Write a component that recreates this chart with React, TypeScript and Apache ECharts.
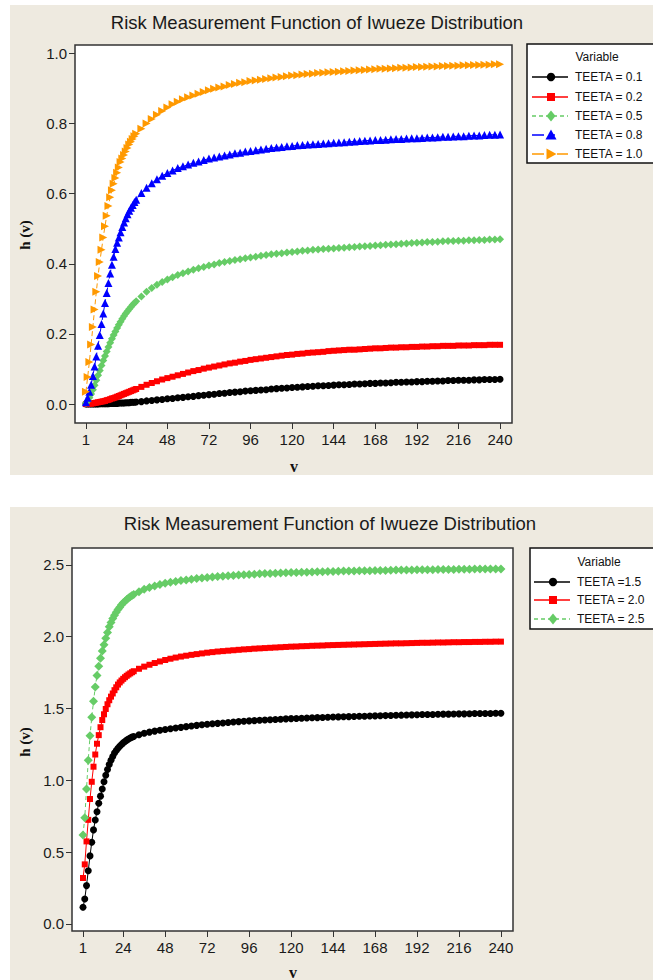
import React, { useEffect, useRef } from "react";
import * as echarts from "echarts";

const TITLE = "Risk Measurement Function of Iwueze Distribution";
const X_TICKS = [1, 24, 48, 72, 96, 120, 144, 168, 192, 216, 240];
const Y1_TICKS = [0, 0.2, 0.4, 0.6, 0.8, 1.0];
const Y2_TICKS = [0, 0.5, 1.0, 1.5, 2.0, 2.5];

const V = [
  1, 2, 3, 4, 5, 6, 7, 8, 9, 10, 11, 12, 13, 14, 15, 16, 17, 18, 19, 20, 21, 22, 23, 24, 25, 26, 27, 28, 29, 30,
  33, 36, 39, 42, 45, 48, 51, 54, 57, 60, 63, 66, 69, 72, 75, 78, 81, 84, 87, 90,
  93, 96, 99, 102, 105, 108, 111, 114, 117, 120, 123, 126, 129, 132, 135, 138, 141, 144, 147, 150,
  153, 156, 159, 162, 165, 168, 171, 174, 177, 180, 183, 186, 189, 192, 195, 198, 201, 204, 207, 210,
  213, 216, 219, 222, 225, 228, 231, 234, 237, 240,
];

// Panel 1
const NAMES_1 = ["TEETA = 0.1", "TEETA = 0.2", "TEETA = 0.5", "TEETA = 0.8", "TEETA = 1.0"];
const T01 = [
  0, 0, 0, 0, 0, 0, 0, 0, 0.001, 0.001, 0.001, 0.001, 0.001, 0.001, 0.002, 0.002, 0.002, 0.002, 0.002, 0.003,
  0.003, 0.003, 0.003, 0.004, 0.004, 0.004, 0.005, 0.005, 0.005, 0.006,
  0.007, 0.009, 0.01, 0.012, 0.013, 0.015, 0.016, 0.018, 0.019, 0.021,
  0.022, 0.024, 0.025, 0.027, 0.028, 0.03, 0.031, 0.033, 0.034, 0.035,
  0.037, 0.038, 0.039, 0.04, 0.041, 0.043, 0.044, 0.045, 0.046, 0.047,
  0.048, 0.049, 0.05, 0.051, 0.052, 0.052, 0.053, 0.054, 0.055, 0.055,
  0.056, 0.057, 0.057, 0.058, 0.059, 0.059, 0.06, 0.06, 0.061, 0.062,
  0.062, 0.063, 0.063, 0.064, 0.064, 0.065, 0.065, 0.066, 0.066, 0.067,
  0.067, 0.068, 0.068, 0.068, 0.069, 0.069, 0.07, 0.07, 0.07, 0.071,
];
const T02 = [
  0, 0, 0.001, 0.001, 0.002, 0.003, 0.004, 0.005, 0.006, 0.007, 0.008, 0.009, 0.011, 0.012, 0.014, 0.016, 0.017, 0.019, 0.021, 0.023,
  0.025, 0.027, 0.029, 0.031, 0.033, 0.035, 0.037, 0.039, 0.041, 0.043,
  0.049, 0.055, 0.06, 0.065, 0.07, 0.074, 0.078, 0.082, 0.086, 0.09,
  0.094, 0.097, 0.101, 0.104, 0.107, 0.11, 0.113, 0.116, 0.118, 0.121,
  0.123, 0.126, 0.128, 0.13, 0.132, 0.134, 0.136, 0.138, 0.14, 0.141,
  0.143, 0.144, 0.146, 0.147, 0.148, 0.149, 0.151, 0.152, 0.153, 0.154,
  0.155, 0.155, 0.156, 0.157, 0.158, 0.159, 0.159, 0.16, 0.161, 0.161,
  0.162, 0.162, 0.163, 0.163, 0.164, 0.164, 0.165, 0.165, 0.166, 0.166,
  0.166, 0.167, 0.167, 0.167, 0.168, 0.168, 0.168, 0.169, 0.169, 0.169,
];
const T05 = [
  0.003, 0.009, 0.018, 0.029, 0.041, 0.054, 0.068, 0.082, 0.096, 0.11, 0.124, 0.137, 0.15, 0.163, 0.175, 0.186, 0.197, 0.207, 0.217, 0.226,
  0.235, 0.243, 0.251, 0.258, 0.265, 0.271, 0.277, 0.283, 0.288, 0.293,
  0.307, 0.32, 0.331, 0.34, 0.348, 0.355, 0.362, 0.368, 0.373, 0.378,
  0.383, 0.387, 0.391, 0.395, 0.398, 0.402, 0.405, 0.408, 0.411, 0.413,
  0.416, 0.418, 0.42, 0.423, 0.425, 0.427, 0.429, 0.43, 0.432, 0.434,
  0.435, 0.437, 0.438, 0.44, 0.441, 0.442, 0.443, 0.444, 0.445, 0.446,
  0.447, 0.448, 0.449, 0.45, 0.451, 0.452, 0.453, 0.454, 0.455, 0.456,
  0.457, 0.458, 0.459, 0.46, 0.461, 0.462, 0.462, 0.463, 0.464, 0.465,
  0.465, 0.466, 0.466, 0.467, 0.467, 0.468, 0.468, 0.469, 0.469, 0.47,
];
const T08 = [
  0.005, 0.018, 0.035, 0.055, 0.08, 0.107, 0.136, 0.166, 0.197, 0.228, 0.258, 0.288, 0.317, 0.345, 0.372, 0.397, 0.42, 0.442, 0.46, 0.475,
  0.49, 0.505, 0.518, 0.53, 0.541, 0.551, 0.56, 0.568, 0.576, 0.583,
  0.602, 0.617, 0.63, 0.641, 0.651, 0.659, 0.666, 0.673, 0.678, 0.683,
  0.688, 0.692, 0.696, 0.7, 0.703, 0.706, 0.709, 0.712, 0.715, 0.717,
  0.72, 0.722, 0.724, 0.726, 0.728, 0.73, 0.732, 0.733, 0.735, 0.736,
  0.738, 0.739, 0.74, 0.741, 0.742, 0.743, 0.744, 0.745, 0.746, 0.747,
  0.748, 0.749, 0.75, 0.751, 0.752, 0.753, 0.753, 0.754, 0.755, 0.756,
  0.756, 0.757, 0.758, 0.758, 0.759, 0.76, 0.76, 0.761, 0.762, 0.762,
  0.763, 0.764, 0.764, 0.765, 0.766, 0.766, 0.767, 0.768, 0.768, 0.769,
];
const T10 = [
  0.035, 0.077, 0.12, 0.17, 0.22, 0.27, 0.32, 0.365, 0.405, 0.44, 0.475, 0.507, 0.537, 0.565, 0.59, 0.61, 0.628, 0.645, 0.66, 0.675,
  0.69, 0.7, 0.71, 0.72, 0.73, 0.74, 0.748, 0.756, 0.764, 0.771,
  0.785, 0.8, 0.813, 0.825, 0.836, 0.846, 0.855, 0.862, 0.869, 0.875,
  0.88, 0.885, 0.89, 0.895, 0.899, 0.903, 0.906, 0.91, 0.913, 0.916,
  0.918, 0.921, 0.923, 0.925, 0.927, 0.929, 0.931, 0.933, 0.935, 0.937,
  0.938, 0.94, 0.941, 0.942, 0.944, 0.945, 0.946, 0.947, 0.948, 0.949,
  0.95, 0.951, 0.952, 0.953, 0.954, 0.955, 0.956, 0.956, 0.957, 0.958,
  0.959, 0.959, 0.96, 0.961, 0.961, 0.962, 0.963, 0.963, 0.964, 0.964,
  0.965, 0.965, 0.966, 0.966, 0.967, 0.967, 0.968, 0.968, 0.969, 0.969,
];

// Panel 2
const NAMES_2 = ["TEETA =1.5", "TEETA = 2.0", "TEETA = 2.5"];
const T15 = [
  0.116, 0.174, 0.267, 0.371, 0.474, 0.569, 0.655, 0.724, 0.782, 0.84, 0.89, 0.94, 0.99, 1.035, 1.075, 1.11, 1.14, 1.166, 1.19, 1.208,
  1.224, 1.238, 1.25, 1.261, 1.271, 1.28, 1.288, 1.295, 1.301, 1.306,
  1.318, 1.328, 1.336, 1.343, 1.349, 1.354, 1.359, 1.364, 1.369, 1.374,
  1.378, 1.383, 1.387, 1.391, 1.394, 1.397, 1.4, 1.403, 1.406, 1.409,
  1.411, 1.414, 1.416, 1.418, 1.42, 1.422, 1.424, 1.426, 1.428, 1.43,
  1.431, 1.433, 1.434, 1.436, 1.437, 1.438, 1.44, 1.441, 1.442, 1.443,
  1.444, 1.445, 1.446, 1.447, 1.448, 1.449, 1.45, 1.451, 1.452, 1.453,
  1.454, 1.455, 1.456, 1.457, 1.458, 1.458, 1.459, 1.46, 1.461, 1.461,
  1.462, 1.463, 1.463, 1.464, 1.465, 1.465, 1.466, 1.466, 1.467, 1.467,
];
const T20 = [
  0.32, 0.415, 0.575, 0.725, 0.87, 0.99, 1.095, 1.18, 1.255, 1.315, 1.37, 1.42, 1.46, 1.497, 1.53, 1.558, 1.583, 1.605, 1.628, 1.648,
  1.667, 1.682, 1.695, 1.707, 1.718, 1.728, 1.737, 1.745, 1.753, 1.76,
  1.777, 1.792, 1.805, 1.817, 1.828, 1.838, 1.847, 1.855, 1.862, 1.868,
  1.874, 1.879, 1.884, 1.889, 1.893, 1.897, 1.9, 1.903, 1.906, 1.909,
  1.912, 1.914, 1.917, 1.919, 1.921, 1.923, 1.925, 1.927, 1.929, 1.931,
  1.932, 1.934, 1.935, 1.937, 1.938, 1.939, 1.941, 1.942, 1.943, 1.944,
  1.945, 1.946, 1.947, 1.948, 1.949, 1.95, 1.951, 1.952, 1.953, 1.954,
  1.954, 1.955, 1.956, 1.957, 1.958, 1.958, 1.959, 1.96, 1.96, 1.961,
  1.962, 1.962, 1.963, 1.963, 1.964, 1.964, 1.965, 1.965, 1.966, 1.966,
];
const T25 = [
  0.62, 0.74, 0.94, 1.14, 1.31, 1.44, 1.55, 1.65, 1.73, 1.795, 1.85, 1.9, 1.945, 1.99, 2.03, 2.07, 2.1, 2.127, 2.15, 2.17,
  2.189, 2.206, 2.222, 2.236, 2.248, 2.259, 2.269, 2.278, 2.287, 2.295,
  2.314, 2.33, 2.343, 2.354, 2.364, 2.372, 2.379, 2.385, 2.391, 2.396,
  2.401, 2.405, 2.409, 2.413, 2.416, 2.419, 2.422, 2.425, 2.427, 2.43,
  2.432, 2.434, 2.436, 2.438, 2.44, 2.441, 2.443, 2.444, 2.446, 2.447,
  2.448, 2.449, 2.45, 2.451, 2.452, 2.453, 2.454, 2.455, 2.456, 2.457,
  2.457, 2.458, 2.459, 2.46, 2.46, 2.461, 2.462, 2.462, 2.463, 2.464,
  2.464, 2.465, 2.465, 2.466, 2.466, 2.467, 2.467, 2.468, 2.468, 2.469,
  2.469, 2.47, 2.47, 2.47, 2.471, 2.471, 2.471, 2.472, 2.472, 2.472,
];

const BLACK = "#000000";
const RED = "#ff0000";
const GREEN = "#66cc66";
const BLUE = "#0000ff";
const ORANGE = "#ff9900";
const BEIGE = "#eeeae0";
const FRAME = "#333333";
const SANS = "Liberation Sans";
const SERIF = "Liberation Serif";

type Style = { color: string; symbol: string; size: number; dash: any; legendDash: number[] | null; rotate?: number };
const STYLE_BLACK: Style = { color: BLACK, symbol: "circle", size: 7, dash: "solid", legendDash: null };
const STYLE_RED: Style = { color: RED, symbol: "rect", size: 6, dash: "solid", legendDash: null };
const STYLE_GREEN: Style = { color: GREEN, symbol: "diamond", size: 8, dash: [4, 3], legendDash: [4, 3] };
const STYLE_BLUE: Style = { color: BLUE, symbol: "triangle", size: 8, dash: [9, 3, 3, 3], legendDash: [12, 6, 5, 20] };
const STYLE_ORANGE: Style = { color: ORANGE, symbol: "triangle", size: 8, dash: [5, 3], legendDash: [12, 6, 4, 3], rotate: -90 };

function pairs(vals: number[]) {
  return V.map((v, i) => [v, vals[i]]);
}

function makeSeries(name: string, vals: number[], idx: number, st: Style, size?: number) {
  return {
    type: "line",
    name,
    xAxisIndex: idx,
    yAxisIndex: idx,
    data: pairs(vals),
    symbol: st.symbol,
    symbolSize: size ?? st.size,
    symbolRotate: st.rotate ?? 0,
    showAllSymbol: true,
    itemStyle: { color: st.color, borderWidth: 0 },
    lineStyle: { color: st.color, width: 1, type: st.dash },
    emphasis: { disabled: true },
  };
}

function marker(st: Style, cx: number, cy: number) {
  const fill = { fill: st.color };
  if (st.symbol === "circle") return { type: "circle", z: 6, shape: { cx, cy, r: 4.2 }, style: fill };
  if (st.symbol === "rect") return { type: "rect", z: 6, shape: { x: cx - 4, y: cy - 4, width: 8, height: 8 }, style: fill };
  if (st.symbol === "diamond")
    return { type: "polygon", z: 6, shape: { points: [[cx, cy - 5.5], [cx + 4.5, cy], [cx, cy + 5.5], [cx - 4.5, cy]] }, style: fill };
  if (st.rotate)
    return { type: "polygon", z: 6, shape: { points: [[cx - 4.5, cy - 5.5], [cx + 5.5, cy], [cx - 4.5, cy + 5.5]] }, style: fill };
  return { type: "polygon", z: 6, shape: { points: [[cx, cy - 5.5], [cx + 5.5, cy + 4.5], [cx - 5.5, cy + 4.5]] }, style: fill };
}

function legendItems(names: string[], styles: Style[], x0: number, ys: number[]) {
  const out: any[] = [];
  names.forEach((name, i) => {
    const st = styles[i];
    const y = ys[i];
    out.push({
      type: "line",
      z: 5,
      shape: { x1: x0, y1: y, x2: x0 + 36, y2: y },
      style: { stroke: st.color, lineWidth: 1.5, lineDash: st.legendDash ?? undefined },
    });
    out.push(marker(st, x0 + 19, y));
    out.push({
      type: "text",
      z: 6,
      x: x0 + 43,
      y,
      style: { text: name, fontSize: 12, fontFamily: SANS, fill: "#111", textAlign: "left", textVerticalAlign: "middle" },
    });
  });
  return out;
}

function xAxisOpt(gridIndex: number) {
  return {
    type: "value",
    gridIndex,
    min: -5.3,
    max: 246.9,
    axisLine: { show: false, onZero: false },
    splitLine: { show: false },
    axisTick: { show: true, length: 6, customValues: X_TICKS, lineStyle: { color: FRAME, width: 1 } },
    axisLabel: { customValues: X_TICKS, fontSize: 15, fontFamily: SANS, color: "#1a1a1a", margin: 9 },
  };
}

function yAxisOpt(gridIndex: number, min: number, max: number, ticks: number[]) {
  return {
    type: "value",
    gridIndex,
    min,
    max,
    axisLine: { show: false, onZero: false },
    splitLine: { show: false },
    axisTick: { show: true, length: 6, customValues: ticks, lineStyle: { color: FRAME, width: 1 } },
    axisLabel: {
      customValues: ticks,
      fontSize: 15,
      fontFamily: SANS,
      color: "#1a1a1a",
      margin: 8,
      formatter: (v: number) => v.toFixed(1),
    },
  };
}

export default function App() {
  const ref = useRef<HTMLDivElement>(null);
  useEffect(() => {
    if (!ref.current) return;
    const chart = echarts.init(ref.current, null, { renderer: "svg" });
    const styles1 = [STYLE_BLACK, STYLE_RED, STYLE_GREEN, STYLE_BLUE, STYLE_ORANGE];
    const styles2 = [STYLE_BLACK, STYLE_RED, STYLE_GREEN];
    chart.setOption({
      animation: false,
      backgroundColor: "#ffffff",
      grid: [
        { left: 75, top: 45, width: 437, height: 378, show: true, backgroundColor: "#ffffff", borderColor: FRAME, borderWidth: 1.5 },
        { left: 72, top: 548, width: 441, height: 383, show: true, backgroundColor: "#ffffff", borderColor: FRAME, borderWidth: 1.5 },
      ],
      xAxis: [xAxisOpt(0), xAxisOpt(1)],
      yAxis: [yAxisOpt(0, -0.054, 1.024, Y1_TICKS), yAxisOpt(1, -0.049, 2.618, Y2_TICKS)],
      graphic: [
        { type: "rect", z: -100, shape: { x: 10, y: 5, width: 643, height: 470 }, style: { fill: BEIGE } },
        { type: "rect", z: -100, shape: { x: 10, y: 507, width: 643, height: 473 }, style: { fill: BEIGE } },
        { type: "rect", z: 1, shape: { x: 527, y: 44, width: 140, height: 119 }, style: { fill: "#ffffff", stroke: "#111", lineWidth: 1.5 } },
        { type: "rect", z: 1, shape: { x: 530, y: 548, width: 140, height: 81 }, style: { fill: "#ffffff", stroke: "#111", lineWidth: 1.5 } },
        { type: "text", z: 5, x: 317, y: 22, style: { text: TITLE, fontSize: 18.5, fontFamily: SANS, fill: "#1a1a1a", textAlign: "center", textVerticalAlign: "middle" } },
        { type: "text", z: 5, x: 330, y: 523, style: { text: TITLE, fontSize: 18.5, fontFamily: SANS, fill: "#1a1a1a", textAlign: "center", textVerticalAlign: "middle" } },
        { type: "text", z: 5, x: 597, y: 57, style: { text: "Variable", fontSize: 12, fontFamily: SANS, fill: "#111", textAlign: "center", textVerticalAlign: "middle" } },
        { type: "text", z: 5, x: 599, y: 562, style: { text: "Variable", fontSize: 12, fontFamily: SANS, fill: "#111", textAlign: "center", textVerticalAlign: "middle" } },
        { type: "text", z: 5, x: 25, y: 235, rotation: Math.PI / 2, style: { text: "h (v)", fontSize: 15, fontWeight: "bold", fontFamily: SERIF, fill: "#111", textAlign: "center", textVerticalAlign: "middle" } },
        { type: "text", z: 5, x: 25, y: 742, rotation: Math.PI / 2, style: { text: "h (v)", fontSize: 15, fontWeight: "bold", fontFamily: SERIF, fill: "#111", textAlign: "center", textVerticalAlign: "middle" } },
        { type: "text", z: 5, x: 294, y: 466, style: { text: "v", fontSize: 16, fontWeight: "bold", fontFamily: SERIF, fill: "#111", textAlign: "center", textVerticalAlign: "middle" } },
        { type: "text", z: 5, x: 293, y: 972, style: { text: "v", fontSize: 16, fontWeight: "bold", fontFamily: SERIF, fill: "#111", textAlign: "center", textVerticalAlign: "middle" } },
        ...legendItems(NAMES_1, styles1, 532, [77, 97, 116, 135, 154]),
        ...legendItems(NAMES_2, styles2, 534, [582, 600, 619]),
      ],
      series: [
        makeSeries(NAMES_1[0], T01, 0, STYLE_BLACK),
        makeSeries(NAMES_1[1], T02, 0, STYLE_RED),
        makeSeries(NAMES_1[2], T05, 0, STYLE_GREEN),
        makeSeries(NAMES_1[3], T08, 0, STYLE_BLUE),
        makeSeries(NAMES_1[4], T10, 0, STYLE_ORANGE),
        makeSeries(NAMES_2[0], T15, 1, STYLE_BLACK),
        makeSeries(NAMES_2[1], T20, 1, STYLE_RED),
        makeSeries(NAMES_2[2], T25, 1, STYLE_GREEN, 9),
      ],
    });
    return () => chart.dispose();
  }, []);
  return <div ref={ref} style={{ position: "absolute", left: 0, top: 0, width: 653, height: 980 }} />;
}
